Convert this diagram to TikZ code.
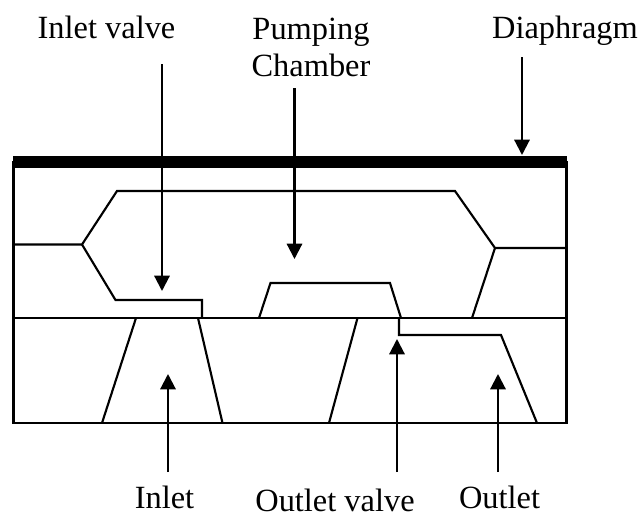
\documentclass[tikz,border=0pt]{standalone}
\usepackage{fontspec}
\setmainfont{Liberation Serif}
\usetikzlibrary{arrows.meta}
\tikzset{
  px/.style={x=0.75pt,y=-0.75pt},
  wall/.style={draw=black,line width=1.6pt,line join=miter},
  lbl/.style={inner sep=0pt,font=\fontsize{24.3pt}{28pt}\selectfont,align=center},
  pointer/.style={draw=black,line width=1.6pt,-{Triangle[length=11.5pt,width=11.5pt]}}
}
\begin{document}
\begin{tikzpicture}[px]
\useasboundingbox (0,0) rectangle (640,515);
% body
\draw[wall] (13.5,162) rectangle (566.5,423);
\fill[black] (13,156) rectangle (567,168);
\draw[wall] (13.5,318) -- (566.5,318);
% chamber outline
\draw[wall] (14,244.5) -- (82,244.5) -- (117,191) -- (455,191) -- (495,248) -- (566,248);
\draw[wall] (82,244.5) -- (115.5,300) -- (202,300) -- (202,318);
\draw[wall] (495,248) -- (472,318);
\draw[wall] (259,318) -- (270.5,283) -- (390,283) -- (401,318);
% lower passages
\draw[wall] (136,318) -- (102,423);
\draw[wall] (198,318) -- (222.5,423);
\draw[wall] (357.5,318) -- (329,423);
\draw[wall] (399,318) -- (399,335) -- (501,335) -- (537,423);
% labels
\node[lbl,anchor=base] (inletvalve) at (106.5,38.5) {Inlet valve};
\node[lbl] (chamber) at (311,47.5) {Pumping\\Chamber};
\node[lbl,anchor=base] (diaphragm) at (565,38) {Diaphragm};
\node[lbl,anchor=base] (inlet) at (164.5,508) {Inlet};
\node[lbl,anchor=base] (outletvalve) at (335,511) {Outlet valve};
\node[lbl,anchor=base] (outlet) at (499.5,508) {Outlet};
% pointer ends
\coordinate (ivS) at (162,64);  \coordinate (ivT) at (162,291);
\coordinate (pcS) at (294.5,88); \coordinate (pcT) at (294.5,259);
\coordinate (dpS) at (522,57); \coordinate (dpT) at (522,155);
\coordinate (inS) at (168,472); \coordinate (inT) at (168,374);
\coordinate (ovS) at (397,472); \coordinate (ovT) at (397,339);
\coordinate (otS) at (498,472); \coordinate (otT) at (498,374);
\draw[pointer] (ivS) -- (ivT);
\draw[pointer] (pcS) -- (pcT);
\draw[pointer] (dpS) -- (dpT);
\draw[pointer] (inS) -- (inT);
\draw[pointer] (ovS) -- (ovT);
\draw[pointer] (otS) -- (otT);
\end{tikzpicture}
\end{document}
